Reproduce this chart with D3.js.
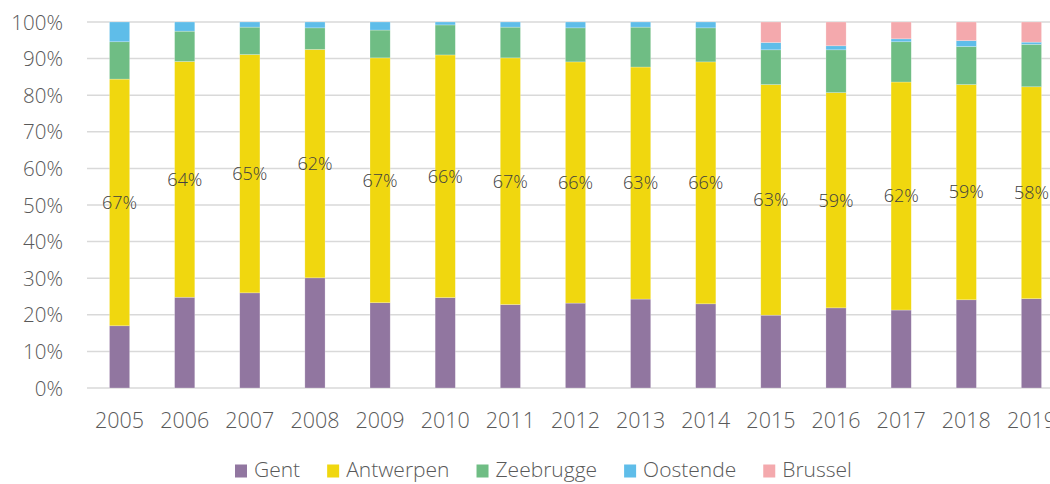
<!DOCTYPE html>
<html>
<head>
<meta charset="utf-8">
<script src="https://cdn.jsdelivr.net/npm/d3@7/dist/d3.min.js"></script>
<style>
  body { margin: 0; background: #fff; }
  svg text { font-family: "Open Sans", sans-serif; font-weight: 300; fill: #595959; }
</style>
</head>
<body>
<div id="chart"></div>
<script>
"use strict";

// Data (share per port, %)
var years = ["2005", "2006", "2007", "2008", "2009", "2010", "2011", "2012",
	"2013", "2014", "2015", "2016", "2017", "2018", "2019"];
var ports = ["Gent", "Antwerpen", "Zeebrugge", "Oostende", "Brussel"];
var gent      = [17.0, 24.8, 26.0, 30.1, 23.3, 24.7, 22.8, 23.2, 24.3, 23.0, 19.9, 21.9, 21.3, 24.1, 24.4];
var antwerpen = [67.4, 64.4, 65.1, 62.4, 66.9, 66.3, 67.4, 65.9, 63.4, 66.1, 63.0, 58.8, 62.3, 58.8, 57.9];
var zeebrugge = [10.2, 8.3, 7.5, 5.9, 7.6, 8.2, 8.4, 9.3, 10.9, 9.3, 9.5, 11.7, 11.0, 10.4, 11.6];
var oostende  = [5.4, 2.5, 1.4, 1.6, 2.2, 0.8, 1.4, 1.6, 1.4, 1.6, 2.0, 1.1, 0.8, 1.6, 0.6];
var brussel   = [0, 0, 0, 0, 0, 0, 0, 0, 0, 0, 5.6, 6.5, 4.6, 5.1, 5.5];
var yTicks = [0, 10, 20, 30, 40, 50, 60, 70, 80, 90, 100];

var colors = ["#9176a0", "#f0d70f", "#6fbd84", "#5fbde9", "#f4a9ad"];

// Build table for stacking
var series = [gent, antwerpen, zeebrugge, oostende, brussel];
var table = years.map(function (yr, i) {
	var row = { year: yr };
	ports.forEach(function (p, k) { row[p] = series[k][i]; });
	return row;
});

var width = 1050, height = 484;
var margin = { top: 22, left: 87, bottom: 96 };
var plotRight = 1064;

var svg = d3.select("#chart").append("svg")
	.attr("width", width)
	.attr("height", height);

var x = d3.scaleBand()
	.domain(years)
	.range([margin.left, plotRight])
	.paddingInner(0.69)
	.paddingOuter(0.345);

var y = d3.scaleLinear()
	.domain([0, 100])
	.range([height - margin.bottom, margin.top]);

// Gridlines
svg.append("g")
	.selectAll("line")
	.data(yTicks)
	.enter().append("line")
	.attr("x1", margin.left)
	.attr("x2", width)
	.attr("y1", function (d) { return y(d); })
	.attr("y2", function (d) { return y(d); })
	.attr("stroke", "#d9d9d9")
	.attr("stroke-width", 1.5);

// Y axis labels
var yAxis = d3.axisLeft(y)
	.tickValues(yTicks)
	.tickSize(0)
	.tickPadding(0)
	.tickFormat(function (d) { return d + "%"; });

var gy = svg.append("g")
	.attr("transform", "translate(63,0)")
	.call(yAxis);
gy.select(".domain").remove();
gy.selectAll("text")
	.attr("font-size", 20.5)
	.attr("font-family", null)
	.attr("dy", "0.35em");

// Stacked bars
var stack = d3.stack().keys(ports);
var layers = stack(table);

svg.append("g")
	.selectAll("g")
	.data(layers)
	.enter().append("g")
	.attr("fill", function (d, i) { return colors[i]; })
	.selectAll("rect")
	.data(function (d) { return d; })
	.enter().append("rect")
	.attr("x", function (d) { return x(d.data.year); })
	.attr("width", x.bandwidth())
	.attr("y", function (d) { return y(d[1]); })
	.attr("height", function (d) { return Math.max(0, y(d[0]) - y(d[1])); })
	.attr("stroke", "#ffffff")
	.attr("stroke-opacity", 0.4)
	.attr("stroke-width", 0.6);

// Antwerpen labels
var antLayer = layers[1];
svg.append("g")
	.selectAll("text")
	.data(antLayer)
	.enter().append("text")
	.attr("x", function (d) { return x(d.data.year) + x.bandwidth() / 2; })
	.attr("y", function (d) { return y((d[0] + d[1]) / 2); })
	.attr("dy", "0.35em")
	.attr("text-anchor", "middle")
	.attr("font-size", 18)
	.style("fill", "#404040")
	.text(function (d) { return Math.round(d[1] - d[0]) + "%"; });

// X axis labels
var xAxis = d3.axisBottom(x)
	.tickSize(0)
	.tickPadding(0);

var gx = svg.append("g")
	.attr("transform", "translate(0," + 412 + ")")
	.call(xAxis);
gx.select(".domain").remove();
gx.selectAll("text")
	.attr("font-size", 21.5)
	.attr("font-family", null)
	.attr("dy", "0.35em")
	.attr("y", 8);

// Legend
var legend = svg.append("g").attr("transform", "translate(235,470)");
var lx = 0;
ports.forEach(function (p, i) {
	var item = legend.append("g").attr("transform", "translate(" + lx + ",0)");
	item.append("rect")
		.attr("x", 0)
		.attr("y", -5.5)
		.attr("width", 12)
		.attr("height", 13)
		.attr("fill", colors[i]);
	var t = item.append("text")
		.attr("x", 19)
		.attr("dy", "0.35em")
		.attr("font-size", 21)
		.text(p);
	lx += 19 + t.node().getComputedTextLength() + 27;
});
</script>
</body>
</html>
